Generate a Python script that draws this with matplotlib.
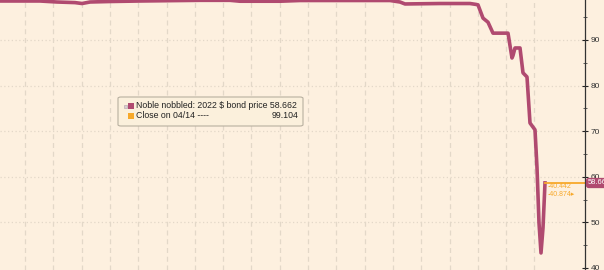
import matplotlib.pyplot as plt
import matplotlib.patches as mpatches

# trading-day index and 2022 bond price
day = [0, 40, 57, 75, 82, 90, 110, 140, 200, 230, 240, 280, 300, 390, 400, 405,
       440, 470, 476, 478, 483, 488, 493, 508, 512, 513, 515, 520, 523, 527,
       530, 535, 537, 539, 541, 543, 545]
price = [98.55, 98.55, 98.33, 98.2, 98.0, 98.33, 98.44, 98.55, 98.7, 98.7, 98.5,
         98.5, 98.66, 98.66, 98.33, 97.9, 98.0, 98.0, 97.8, 97.7, 94.8, 93.9,
         91.5, 91.5, 86.05, 86.6, 88.25, 88.25, 82.8, 81.9, 71.8, 70.3, 62.0,
         49.9, 43.3, 48.8, 58.66]
last_price = 58.66
close_0414 = 99.104
grid_days = [25 + 28.3 * k for k in range(19)]
y_major = [40, 50, 60, 70, 80, 90]
y_minor = [45, 55, 65, 75, 85, 95]

bg = '#fdf0df'
magenta = '#b04a70'
orange = '#f7a92b'

plt.rcParams['font.family'] = ['Liberation Sans', 'DejaVu Sans']
fig = plt.figure(figsize=(6.04, 2.70), dpi=100, facecolor=bg)
ax = fig.add_axes([0, 0, 585 / 604, 1])
ax.set_facecolor(bg)

ax.plot(day, price, color=magenta, lw=2.6, solid_joinstyle='round')
ax.plot([day[-1], 590], [last_price, last_price], color=orange, lw=1.3, clip_on=False)

ax.set_xlim(0, 585)
ax.set_ylim(39.56, 98.77)

# grid
for g in grid_days:
    ax.axvline(g, color='#e3d8c8', lw=0.9, ls=(0, (4, 3)), zorder=0)
for v in y_major[1:]:
    ax.axhline(v, color='#e3d8c8', lw=0.9, ls=(0, (1, 2)), zorder=0)

ax.set_xticks([])
ax.yaxis.tick_right()
ax.set_yticks(y_major)
ax.set_yticks(y_minor, minor=True)
ax.tick_params(axis='y', which='major', direction='inout', length=4, width=0.8,
               color='#222222', labelsize=6, labelcolor='#333333', pad=2)
ax.tick_params(axis='y', which='minor', direction='inout', length=2.5, width=0.6,
               color='#444444')
for s in ['top', 'left', 'bottom']:
    ax.spines[s].set_visible(False)
ax.spines['right'].set_color('#333333')
ax.spines['right'].set_linewidth(0.9)

# last price tag
fig.text(587.5 / 604, 1 - 183 / 270, '%.2f' % last_price, fontsize=5.4, color='white',
         va='center', ha='left', zorder=10,
         bbox=dict(boxstyle='round,pad=0.22,rounding_size=0.4', fc=magenta, ec='none'))

# small labels near the low
ax.text(548, 57.8, '-40.442', fontsize=5, color=orange, va='center', ha='left')
ax.text(548, 56.2, '-40.874\u25b8', fontsize=5, color=orange, va='center', ha='left')

# legend box
W, H = 604, 270
box = mpatches.FancyBboxPatch((118 / W, (H - 126) / H), 185 / W, 29 / H,
                              boxstyle='round,pad=0,rounding_size=0.005',
                              transform=fig.transFigure, fc='#fbf0dc', ec='#b8b0a0',
                              lw=0.8, zorder=5)
fig.patches.append(box)
fig.patches.append(mpatches.Rectangle((123.5 / W, (H - 107.5) / H), 3 / W, 3 / H,
                                      transform=fig.transFigure, fc='#d8ccd0',
                                      ec='#b0a0a8', lw=0.4, zorder=6))
fig.patches.append(mpatches.Rectangle((128 / W, (H - 109) / H), 6 / W, 6 / H,
                                      transform=fig.transFigure, fc=magenta,
                                      ec='none', zorder=6))
fig.patches.append(mpatches.Rectangle((128 / W, (H - 119) / H), 6 / W, 6 / H,
                                      transform=fig.transFigure, fc=orange,
                                      ec='none', zorder=6))
fig.text(136 / W, (H - 106) / H, 'Noble nobbled: 2022 $ bond price 58.662',
         fontsize=6.3, color='#222222', va='center', ha='left', zorder=7)
fig.text(136 / W, (H - 116) / H, 'Close on 04/14 ----', fontsize=6.3,
         color='#222222', va='center', ha='left', zorder=7)
fig.text(299 / W, (H - 116) / H, '%.3f' % close_0414, fontsize=6.3, color='#222222',
         va='center', ha='right', zorder=7)

fig.savefig('out.png', dpi=100, facecolor=bg)
